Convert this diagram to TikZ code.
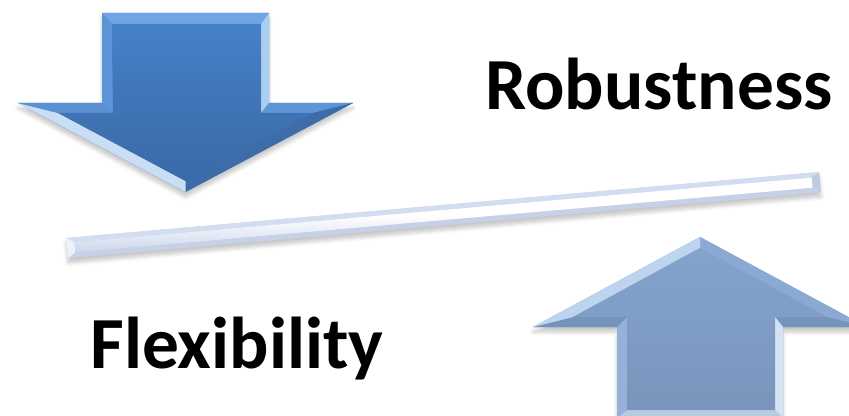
\documentclass[tikz,border=0pt]{standalone}
\usepackage{fontspec}
\setmainfont{Carlito}
\usetikzlibrary{shadows.blur}

\definecolor{downtop}{HTML}{4681C7}
\definecolor{downbot}{HTML}{3A69A7}
\definecolor{uptop}{HTML}{83A3CC}
\definecolor{upbot}{HTML}{7995BC}
\definecolor{barlo}{HTML}{CCD6EB}

\begin{document}
\begin{tikzpicture}[x=0.5pt, y=-0.5pt,
    word/.style={font=\fontsize{36.7}{42}\selectfont\bfseries, anchor=base west, inner sep=0pt},
    soft/.style={blur shadow={shadow xshift=0pt, shadow yshift=-2.5pt, shadow opacity=22, shadow blur steps=6}}]
  \useasboundingbox (0,0) rectangle (849,416);

  % down arrow: outer outline and bevelled inner face
  \foreach \n/\p in {1/{102,13}, 2/{269,13}, 3/{269,103}, 4/{353,103}, 5/{185.5,192}, 6/{18,103}, 7/{102,103}}
    \coordinate (d\n) at (\p);
  \foreach \n/\p in {1/{112,24}, 2/{261,24}, 3/{261,113}, 4/{313,113}, 5/{185.5,181}, 6/{58,113}, 7/{113,113}}
    \coordinate (e\n) at (\p);
  \fill[downtop, soft] (d1) -- (d2) -- (d3) -- (d4) -- (d5) -- (d6) -- (d7) -- cycle;
  \foreach \a/\b/\c in {1/2/6FA5E2, 2/3/A9CEF2, 3/4/5E96D5, 4/5/3D6CA8, 5/6/C9DDF4, 6/7/5A91D0, 7/1/5C95D7} {
    \definecolor{facet}{HTML}{\c}
    \fill[facet] (d\a) -- (d\b) -- (e\b) -- (e\a) -- cycle;
  }
  \shade[top color=downtop, bottom color=downbot] (e1) -- (e2) -- (e3) -- (e4) -- (e5) -- (e6) -- (e7) -- cycle;

  % up arrow
  \foreach \n/\p in {1/{700,237}, 2/{867,327}, 3/{783,327}, 4/{783,418}, 5/{617,418}, 6/{617,327}, 7/{533,327}}
    \coordinate (u\n) at (\p);
  \foreach \n/\p in {1/{700,248}, 2/{827,317}, 3/{775,317}, 4/{775,410}, 5/{627,410}, 6/{627,317}, 7/{573,317}}
    \coordinate (v\n) at (\p);
  \fill[uptop, soft] (u1) -- (u2) -- (u3) -- (u4) -- (u5) -- (u6) -- (u7) -- cycle;
  \foreach \a/\b/\c in {1/2/8BAAD3, 2/3/7593BB, 3/4/D4E3F2, 4/5/B9CBE3, 5/6/95B1D7, 6/7/7593BB, 7/1/BDD4EE} {
    \definecolor{facet}{HTML}{\c}
    \fill[facet] (u\a) -- (u\b) -- (v\b) -- (v\a) -- cycle;
  }
  \shade[top color=uptop, bottom color=upbot] (v1) -- (v2) -- (v3) -- (v4) -- (v5) -- (v6) -- (v7) -- cycle;

  % the tilted bar
  \coordinate (p1) at (66.1,238.0);  \coordinate (p2) at (819.1,172.0);
  \coordinate (p3) at (820.9,192.0); \coordinate (p4) at (67.9,258.0);
  \coordinate (q1) at (74.5,242.3);  \coordinate (q2) at (811.6,177.7);
  \coordinate (q3) at (812.5,187.7); \coordinate (q4) at (75.4,252.3);
  \fill[barlo, soft] (p1) -- (p2) -- (p3) -- (p4) -- cycle;
  \foreach \a/\b/\c in {1/2/D3DDF0, 2/3/BFCBE3, 3/4/C6D1E7, 4/1/EDF2FA} {
    \definecolor{facet}{HTML}{\c}
    \fill[facet] (p\a) -- (p\b) -- (q\b) -- (q\a) -- cycle;
  }
  \shade[top color=white, bottom color=barlo, middle color=white] (q1) -- (q2) -- (q3) -- (q4) -- cycle;

  \node[word] (robust) at (485,110) {Robustness};
  \node[word] (flex) at (90,368) {Flexibility};
\end{tikzpicture}
\end{document}
